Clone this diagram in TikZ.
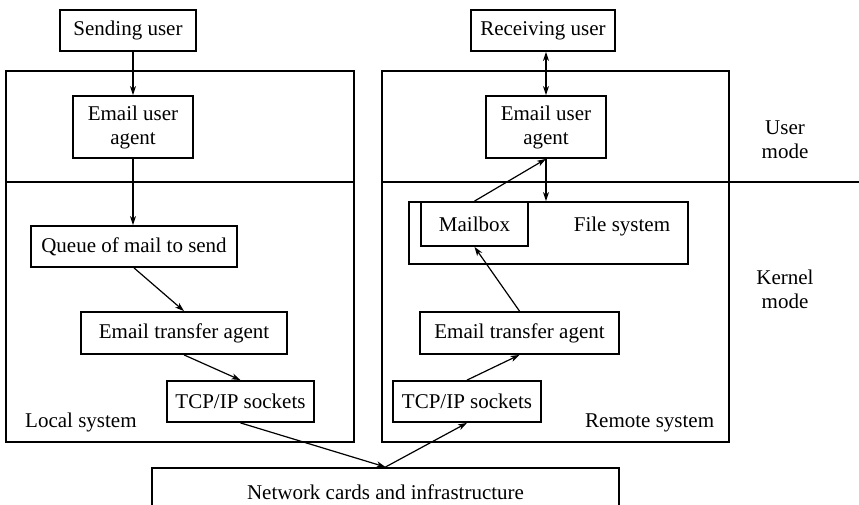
\documentclass[tikz,border=0pt]{standalone}
\usepackage{fontspec}
\setmainfont{Liberation Serif}
\usetikzlibrary{arrows.meta}

\begin{document}
\begin{tikzpicture}[x=1pt,y=-1pt,
    >={Stealth[length=9pt,width=6pt,inset=2.5pt]},
    every node/.style={font=\fontsize{21}{24}\selectfont},
    box/.style={draw,line width=1.8pt,inner sep=0pt,align=center},
    lbl/.style={inner sep=0pt,align=center},
    conn/.style={line width=1.2pt,->}]
    \clip (0,0) rectangle (859,504);
    % the two systems and the mode line
    \draw[line width=1.8pt] (6,71) rectangle (354,442);
    \draw[line width=1.8pt] (382,71) rectangle (729,442);
    \draw[line width=1.8pt] (6,182)--(354,182);
    \draw[line width=1.8pt] (382,182)--(859,182);
    \node[lbl] (umode) at (785,140) {User\\mode};
    \node[lbl] (kmode) at (785,289) {Kernel\\mode};
    \node[lbl,anchor=base west] (lsys) at (25,427) {Local system};
    \node[lbl,anchor=base west] (rsys) at (585,427) {Remote system};
    % local side
    \node[box,minimum width=136,minimum height=41] (su) at (128,30.5) {Sending user};
    \node[box,minimum width=120,minimum height=62] (lua) at (133,127) {Email user\\agent};
    \node[box,minimum width=206,minimum height=41] (queue) at (134,246.5) {Queue of mail to send};
    \node[box,minimum width=206,minimum height=42] (leta) at (184,333) {Email transfer agent};
    \node[box,minimum width=147,minimum height=41] (ltcp) at (240.5,401.5) {TCP/IP sockets};
    % remote side
    \node[box,minimum width=144,minimum height=41] (ru) at (543,30.5) {Receiving user};
    \node[box,minimum width=120,minimum height=62] (rua) at (546,127) {Email user\\agent};
    \node[box,minimum width=279,minimum height=62] (fs) at (548.5,233) {};
    \node[lbl] (fslbl) at (622,226) {File system};
    \node[box,minimum width=107,minimum height=44] (mbox) at (474.5,224) {Mailbox};
    \node[box,minimum width=199,minimum height=42] (reta) at (519.5,333) {Email transfer agent};
    \node[box,minimum width=148,minimum height=41] (rtcp) at (467,401.5) {TCP/IP sockets};
    % network
    \node[box,anchor=north,minimum width=467,minimum height=49] (net) at (385.5,467) {Network cards and infrastructure};
    % connectors
    \draw[conn] (lua.north |- su.south)--(lua.north);
    \draw[conn] (lua.south)--(queue.north -| lua.south);
    \draw[conn] (queue.south)--(leta.north);
    \draw[conn] (leta.south)--(ltcp.north);
    \draw[conn] (ltcp.south)--(net.north);
    \draw[conn] (net.north)--(rtcp.south);
    \draw[conn] (rtcp.north)--(reta.south);
    \draw[conn] (reta.north)--(mbox.south);
    \draw[conn] (mbox.north)--(rua.south);
    \draw[conn] (rua.south)--(fs.north -| rua.south);
    \draw[conn,<->] (rua.north |- ru.south)--(rua.north);
\end{tikzpicture}
\end{document}
